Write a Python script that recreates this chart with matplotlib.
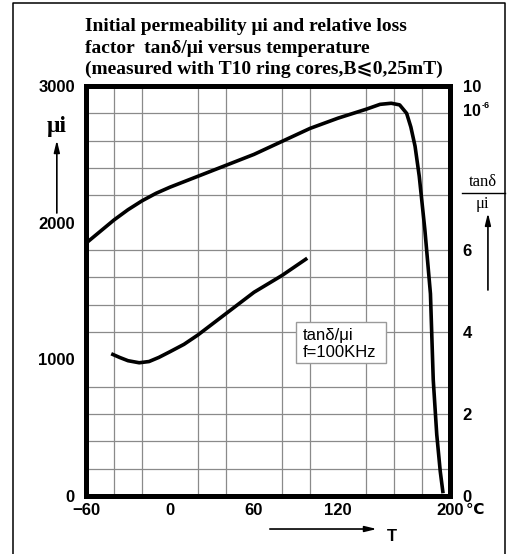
import matplotlib
matplotlib.use("Agg")
import matplotlib.pyplot as plt
from matplotlib.patches import Rectangle
import numpy as np

# permeability curve (left axis)
temp_mu = [-60, -50, -40, -30, -20, -10, 0, 10, 20, 40, 60, 80, 100, 120, 140,
           150, 158, 164, 169, 172, 175, 178, 182, 186, 188, 190.5, 193, 195]
mu_i = [1850, 1935, 2020, 2095, 2160, 2215, 2260, 2300, 2340, 2420, 2500, 2595,
        2690, 2765, 2830, 2866, 2874, 2862, 2800, 2700, 2560, 2340, 1950, 1480,
        850, 450, 180, 20]

# relative loss factor curve (right axis, x 1e-6)
temp_tan = [-42, -36, -30, -22, -15, -8, 0, 10, 20, 40, 60, 80, 98]
tan_mu = [3.47, 3.38, 3.30, 3.25, 3.28, 3.38, 3.52, 3.70, 3.93, 4.45, 4.97, 5.38, 5.80]

x_ticks = [-60, 0, 60, 120, 200]
y_ticks = [0, 1000, 2000, 3000]
y2_ticks = [0, 2, 4, 6, 10]

sans = ["Liberation Sans", "DejaVu Sans"]
serif = ["Liberation Serif", "DejaVu Serif", "DejaVu Sans"]

fig = plt.figure(figsize=(5.12, 5.54), dpi=100)
ax = fig.add_axes([0.168, 0.1047, 0.711, 0.740])
ax2 = ax.twinx()

ax.plot(temp_mu, mu_i, color="black", lw=2.6, solid_capstyle="butt", zorder=3)
ax2.plot(temp_tan, tan_mu, color="black", lw=2.6, solid_capstyle="butt", zorder=3)

ax.set_xlim(-60, 200)
ax.set_ylim(0, 3000)
ax2.set_ylim(0, 10)

# grid every 20 degC / 200 mu
ax.set_xticks(np.arange(-60, 201, 20), minor=True)
ax.set_yticks(np.arange(0, 3001, 200), minor=True)
ax.grid(which="minor", color="#8a8a8a", lw=0.9)
ax.set_axisbelow(True)

ax.set_xticks(x_ticks)
ax.set_xticklabels(["\u221260", "0", "60", "120", "200"])
ax.set_yticks(y_ticks)
ax.set_yticklabels([str(v) for v in y_ticks])
ax2.set_yticks(y2_ticks)
ax2.set_yticklabels([str(v) for v in y2_ticks])

ax.tick_params(which="both", length=0)
ax.tick_params(axis="x", pad=5)
ax.tick_params(axis="y", pad=8)
ax2.tick_params(length=0, pad=9)
for lab in ax.get_xticklabels() + ax.get_yticklabels() + ax2.get_yticklabels():
    lab.set_fontfamily(sans)
    lab.set_fontweight("bold")
    lab.set_fontsize(12)

for s in ax.spines.values():
    s.set_linewidth(3.6)
for s in ax2.spines.values():
    s.set_visible(False)

ax.annotate("\u2103", xy=(200, 0), xycoords="data", xytext=(11.5, -5),
            textcoords="offset points", ha="left", va="top",
            fontsize=11, fontweight="bold", family=sans)

# legend-like box
ax.add_patch(Rectangle((0.577, 0.3237), 0.247, 0.1013, transform=ax.transAxes,
                       fill=True, facecolor="white", edgecolor="#9a9a9a",
                       lw=1.0, zorder=4))
ax.text(0.596, 0.380, "tan\u03b4/\u03bci", transform=ax.transAxes,
        fontsize=12, family=sans, va="baseline", zorder=5)
ax.text(0.596, 0.339, "f=100KHz", transform=ax.transAxes,
        fontsize=12, family=sans, va="baseline", zorder=5)

# title
title_lines = ["Initial permeability \u03bci and relative loss",
               "factor  tan\u03b4/\u03bci versus temperature",
               "(measured with T10 ring cores,B\u2a7d0,25mT)"]
for txt, yb in zip(title_lines, [0.944, 0.904, 0.866]):
    fig.text(0.166, yb, txt, family=serif, fontweight="bold", fontsize=14,
             va="baseline", ha="left")

# left axis label
fig.text(0.111, 0.771, "\u03bci", family=serif, fontsize=17,
         fontweight="bold", ha="center", va="center")
arrow = dict(arrowstyle="-|>,head_length=0.7,head_width=0.17",
             color="black", lw=1.2, shrinkA=0, shrinkB=0)
ax.annotate("", xy=(0.111, 0.747), xytext=(0.111, 0.6155),
            xycoords="figure fraction", textcoords="figure fraction",
            arrowprops=arrow)

# right axis label
fig.text(0.943, 0.657, "tan\u03b4", family=serif, fontsize=12,
         ha="center", va="bottom")
fig.text(0.943, 0.646, "\u03bci", family=serif, fontsize=12,
         ha="center", va="top")
fig.add_artist(plt.Line2D([0.902, 0.986], [0.6516, 0.6516], color="black",
                          lw=1.0, transform=fig.transFigure))
ax.annotate("", xy=(0.953, 0.6155), xytext=(0.953, 0.4765),
            xycoords="figure fraction", textcoords="figure fraction",
            arrowprops=arrow)

# 10^-6 unit marker
fig.text(0.904, 1 - 111 / 554, "10", family=sans, fontsize=11.5,
         fontweight="bold", ha="left", va="center")
fig.text(0.941, 1 - 105 / 554, "-6", family=sans, fontsize=6.5,
         fontweight="bold", ha="left", va="center")

# temperature arrow
ax.annotate("", xy=(0.736, 0.0451), xytext=(0.527, 0.0451),
            xycoords="figure fraction", textcoords="figure fraction",
            arrowprops=arrow)
fig.text(0.766, 0.0307, "T", family=sans, fontsize=12, fontweight="bold",
         ha="center", va="center")

# outer frame (open at the bottom)
fig.add_artist(plt.Line2D([0.0254, 0.0254, 0.986, 0.986],
                          [0.0, 0.9946, 0.9946, 0.0], color="black", lw=1.1,
                          transform=fig.transFigure))

fig.savefig("out.png", dpi=100)
